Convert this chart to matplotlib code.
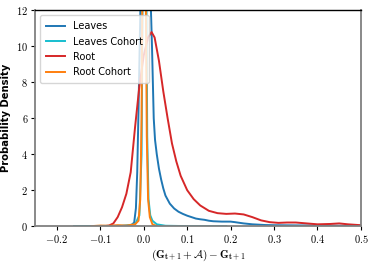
import matplotlib
matplotlib.use("Agg")
import matplotlib.pyplot as plt
from matplotlib.ticker import FuncFormatter

plt.rcParams["mathtext.fontset"] = "cm"
plt.rcParams["font.family"] = ["DejaVu Sans"]

# KDE curves
leaves_x = [-0.16, -0.03, -0.022, -0.018, -0.015, -0.012, -0.009, -0.006, -0.003, 0.0,
            0.004, 0.008, 0.012, 0.016, 0.019, 0.021, 0.023, 0.026, 0.03, 0.035,
            0.04, 0.045, 0.05, 0.06, 0.07, 0.08, 0.09, 0.1, 0.11, 0.12,
            0.13, 0.14, 0.15, 0.16, 0.18, 0.2, 0.21, 0.23, 0.25, 0.28,
            0.3, 0.35, 0.4, 0.45, 0.5]
leaves_y = [0, 0.02, 0.2, 1.0, 3.0, 6.5, 10.5, 14, 17, 18.5,
            18.8, 17.5, 15, 12.5, 10, 8, 6, 4.8, 4.0, 3.2,
            2.6, 2.1, 1.7, 1.25, 0.98, 0.8, 0.68, 0.58, 0.5, 0.42,
            0.38, 0.35, 0.3, 0.27, 0.25, 0.25, 0.22, 0.15, 0.1, 0.06,
            0.05, 0.04, 0.03, 0.02, 0.02]

leaves_cohort_x = [-0.16, -0.1, -0.05, -0.02, -0.01, -0.005, -0.002, 0.0, 0.002, 0.004,
                   0.006, 0.008, 0.011, 0.015, 0.02, 0.03, 0.05, 0.1, 0.19]
leaves_cohort_y = [0, 0, 0.01, 0.1, 0.6, 4, 15, 30, 35, 28,
                   14, 5, 1.5, 0.6, 0.3, 0.1, 0.02, 0, 0]

root_x = [-0.09, -0.08, -0.07, -0.06, -0.05, -0.04, -0.03, -0.02, -0.01, 0.0,
          0.01, 0.018, 0.025, 0.035, 0.045, 0.055, 0.065, 0.075, 0.085, 0.1,
          0.115, 0.13, 0.15, 0.17, 0.19, 0.21, 0.23, 0.25, 0.27, 0.29,
          0.31, 0.33, 0.35, 0.37, 0.4, 0.43, 0.45, 0.47, 0.5]
root_y = [0, 0.03, 0.15, 0.5, 1.05, 1.8, 3.0, 5.5, 7.8, 9.5,
          10.5, 10.8, 10.5, 9.2, 7.5, 6.0, 4.6, 3.6, 2.8, 2.0,
          1.5, 1.15, 0.85, 0.72, 0.68, 0.7, 0.65, 0.5, 0.32, 0.22,
          0.18, 0.2, 0.2, 0.16, 0.1, 0.12, 0.15, 0.1, 0.05]

root_cohort_x = [-0.12, -0.1, -0.08, -0.06, -0.04, -0.02, -0.012, -0.008, -0.005, -0.003,
                 -0.001, 0.001, 0.003, 0.005, 0.007, 0.01, 0.014, 0.02, 0.03]
root_cohort_y = [0, 0.03, 0.02, 0.05, 0.03, 0.1, 0.3, 1.5, 6, 14,
                 30, 38, 25, 12, 5, 1.5, 0.5, 0.1, 0]

fig = plt.figure(figsize=(3.74, 2.62), dpi=100)
ax = fig.add_axes([0.094, 0.137, 0.871, 0.823])

ax.plot(leaves_x, leaves_y, color="#1f77b4", lw=1.4, label="Leaves")
ax.plot(leaves_cohort_x, leaves_cohort_y, color="#17becf", lw=1.4, label="Leaves Cohort")
ax.plot(root_x, root_y, color="#d62728", lw=1.4, label="Root")
ax.plot(root_cohort_x, root_cohort_y, color="#ff7f0e", lw=1.4, label="Root Cohort")

ax.set_xlim(-0.25, 0.5)
ax.set_ylim(0, 12)
ax.set_xticks([-0.2, -0.1, 0.0, 0.1, 0.2, 0.3, 0.4, 0.5])
ax.set_yticks([0, 2, 4, 6, 8, 10, 12])
ax.xaxis.set_major_formatter(FuncFormatter(lambda v, p: "$%.1f$" % v))
ax.yaxis.set_major_formatter(FuncFormatter(lambda v, p: "$%d$" % v))
ax.tick_params(labelsize=7.5, length=3, width=0.8, pad=2)

for s in ["left", "bottom", "right"]:
    ax.spines[s].set_color("#808080")
    ax.spines[s].set_linewidth(1.3)
ax.spines["top"].set_color("black")
ax.spines["top"].set_linewidth(1.0)

ax.set_xlabel(r"$(\mathbf{G_{t+1}} + \mathcal{A}) - \mathbf{G_{t+1}}$", fontsize=8, labelpad=2)
ax.set_ylabel("Probability Density", fontsize=7.2, fontweight="bold", labelpad=4)

ax.legend(loc="upper left", fontsize=7, handlelength=2.0, borderpad=0.6, labelspacing=0.55)

fig.savefig("out.png", dpi=100)
